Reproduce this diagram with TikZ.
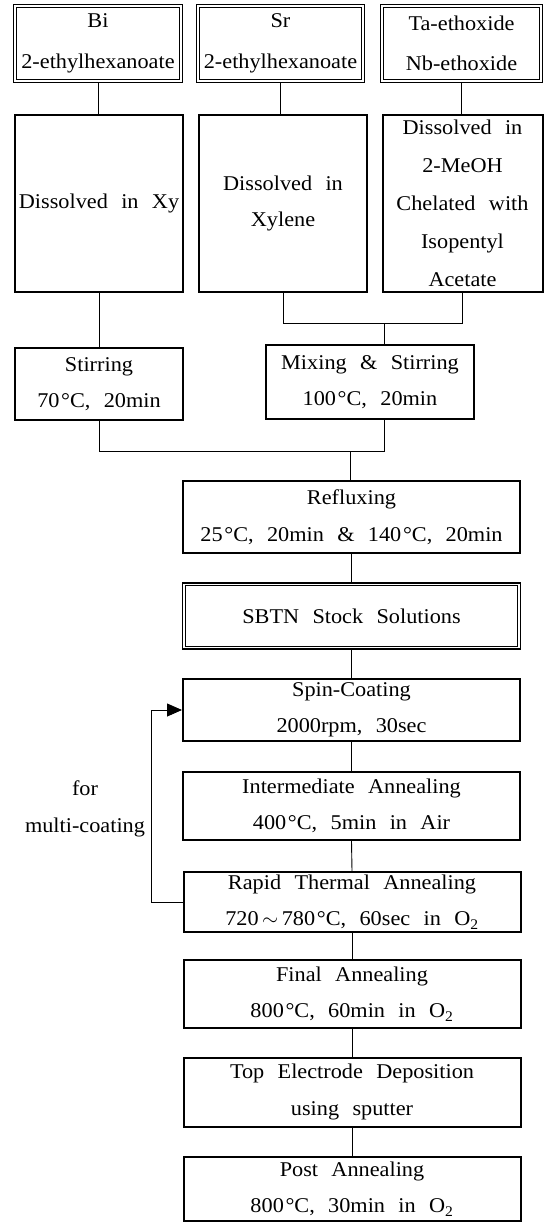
\documentclass[tikz,border=0pt]{standalone}
\usepackage{fontspec}
\setmainfont{Liberation Serif}[FakeStretch=1.06, WordSpace=2.4]
\usetikzlibrary{arrows.meta}
\newcommand\dC{\kern0.08em°C}
\tikzset{
  base/.style={draw, align=center, inner sep=1pt, font=\fontsize{21}{36.5}\selectfont},
  box/.style={base, line width=2pt},
  dbox/.style={base, line width=1.1pt},
  inner line/.style={line width=1.1pt},
  link/.style={line width=0.9pt},
  lower/.style={box, minimum width=337pt},
}
% second (inner) outline of a double-bordered box
\newcommand\innerframe[1]{%
  \draw[inner line] ([xshift=3.2pt,yshift=3.2pt]#1.south west) rectangle ([xshift=-3.2pt,yshift=-3.2pt]#1.north east);}
\begin{document}
\begin{tikzpicture}[x=1pt, y=-1pt]
\useasboundingbox (0,0) rectangle (545,1223);

% starting materials
\node[dbox, minimum width=169pt, minimum height=78pt] (bi) at (98,43.5) {Bi\\[4pt]2-ethylhexanoate};
\node[dbox, minimum width=168pt, minimum height=78pt] (sr) at (280.5,43.5) {Sr\\[4pt]2-ethylhexanoate};
\node[dbox, minimum width=162pt, minimum height=78pt] (ta) at (461.5,43.5) {Ta-ethoxide\\[4pt]Nb-ethoxide};
\innerframe{bi}
\innerframe{sr}
\innerframe{ta}

% dissolution
\node[box, minimum width=168pt, minimum height=177pt] (bidiss) at (99,203.5) {Dissolved in Xy};
\node[box, minimum width=168pt, minimum height=177pt] (srdiss) at (283,203.5) {Dissolved in\\Xylene};
\node[box, minimum width=160pt, minimum height=177pt, inner sep=0pt] (tadiss) at (462.5,203.5)
  {Dissolved in\\[1.5pt]2-MeOH\\[1.5pt]Chelated with\\[1.5pt]Isopentyl\\[1.5pt]Acetate};

% stirring / mixing
\node[box, minimum width=168pt, minimum height=72pt] (stir) at (99,384) {Stirring\\70\dC, 20min};
\node[box, minimum width=208pt, minimum height=74pt] (mix) at (370,382) {Mixing \& Stirring\\100\dC, 20min};

% main process chain
\node[lower, minimum height=72pt] (reflux) at (351.5,517) {Refluxing\\25\dC, 20min \& 140\dC, 20min};
\node[dbox, minimum width=338pt, minimum height=66pt] (sbtn) at (351.5,616) {SBTN Stock Solutions};
\innerframe{sbtn}
\node[lower, minimum height=62pt] (spin) at (351.5,710) {Spin-Coating\\2000rpm, 30sec};
\node[lower, minimum height=68pt] (inter) at (351.5,806) {Intermediate Annealing\\400\dC, 5min in Air};
\node[lower, minimum height=60pt] (rta) at (352,902) {Rapid Thermal Annealing\\720\,$\sim$\,780\dC, 60sec in O\textsubscript{2}};
\node[lower, minimum height=68pt] (final) at (352,994) {Final Annealing\\800\dC, 60min in O\textsubscript{2}};
\node[lower, minimum height=69pt] (topel) at (352,1092) {Top Electrode Deposition\\using sputter};
\node[lower, minimum height=64pt] (post) at (352,1189) {Post Annealing\\800\dC, 30min in O\textsubscript{2}};

% loop label
\node[font=\fontsize{21}{36.5}\selectfont, align=center, inner sep=0pt] (loop) at (85,809) {for\\multi-coating};

% junction points
\coordinate (j1) at (384,323);
\coordinate (j2) at (350,451);
\coordinate (fb) at (151,0);

% connectors
\draw[link] (bi.south) -- (bi.south |- bidiss.north);
\draw[link] (sr.south) -- (sr.south |- srdiss.north);
\draw[link] (ta.south) -- (ta.south |- tadiss.north);
\draw[link] (bidiss.south) -- (bidiss.south |- stir.north);
\draw[link] (srdiss.south) |- (tadiss.south |- j1) -- (tadiss.south);
\draw[link] (j1) -- (j1 |- mix.north);
\draw[link] (stir.south) |- (j1 |- j2) -- (j1 |- mix.south);
\draw[link] (j2) -- (j2 |- reflux.north);
\draw[link] (reflux.south) -- (sbtn.north);
\draw[link] (sbtn.south) -- (spin.north);
\draw[link] (spin.south) -- (inter.north);
\draw[link] (inter.south) -- (rta.north);
\draw[link] (rta.south) -- (final.north);
\draw[link] (final.south) -- (topel.north);
\draw[link] (topel.south) -- (post.north);
\draw[link, -{Triangle[length=15pt, width=13pt]}] (rta.west) -- (rta.west -| fb) |- (spin.west);
\end{tikzpicture}
\end{document}
